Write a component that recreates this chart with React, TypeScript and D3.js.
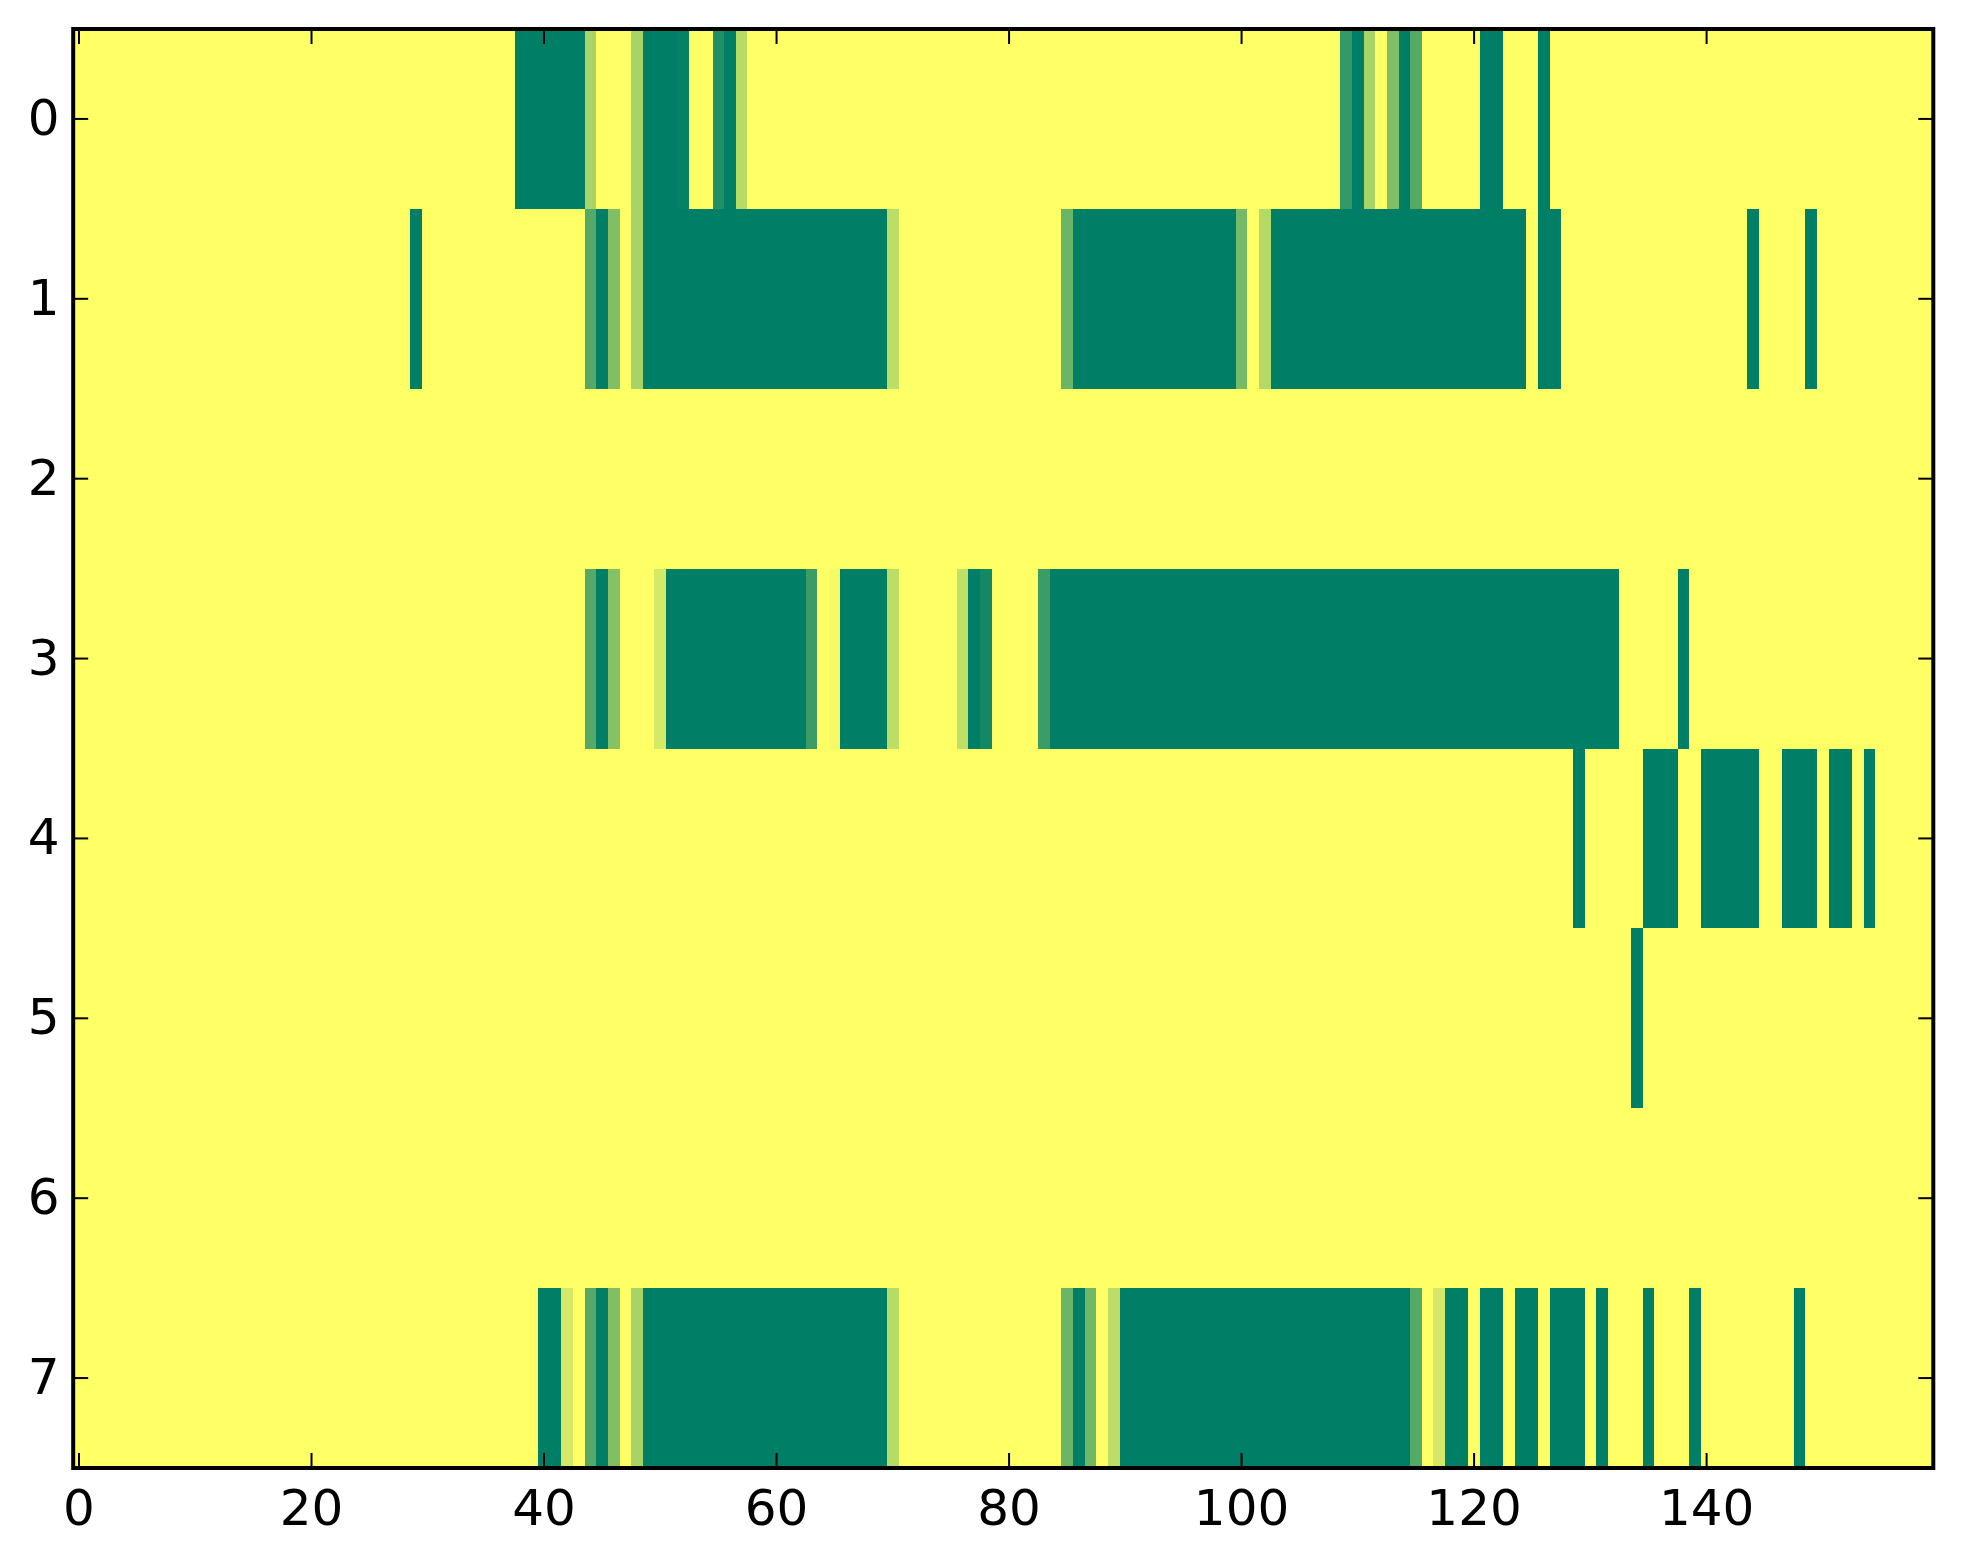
import React from 'react';
import * as d3 from 'd3';

const nCols = 160;
const rowTicks = [0, 1, 2, 3, 4, 5, 6, 7];
const colTicks = [0, 20, 40, 60, 80, 100, 120, 140];

// Sparse rows: [firstCol, lastCol, value]; every other cell is 1 (yellow)
const row0 = [
  [38, 43, 0], [44, 44, 0.66], [48, 48, 0.66], [49, 51, 0], [52, 52, 0.02],
  [55, 55, 0.13], [56, 56, 0], [57, 57, 0.72], [109, 109, 0.2], [110, 110, 0],
  [111, 111, 0.66], [113, 113, 0.5], [114, 114, 0], [115, 115, 0.33],
  [121, 122, 0], [126, 126, 0],
];
const row1 = [
  [29, 29, 0], [44, 44, 0.33], [45, 45, 0], [46, 46, 0.5], [48, 48, 0.66],
  [49, 69, 0], [70, 70, 0.74], [85, 85, 0.42], [86, 99, 0], [100, 100, 0.46],
  [102, 102, 0.7], [103, 124, 0], [126, 127, 0], [144, 144, 0], [149, 149, 0],
];
const row2: number[][] = [];
const row3 = [
  [44, 44, 0.33], [45, 45, 0], [46, 46, 0.52], [50, 50, 0.83], [51, 62, 0],
  [63, 63, 0.23], [65, 65, 0.96], [66, 69, 0], [70, 70, 0.74], [76, 76, 0.75],
  [77, 77, 0], [78, 78, 0.07], [83, 83, 0.23], [84, 132, 0], [138, 138, 0],
];
const row4 = [
  [129, 129, 0], [135, 137, 0], [140, 144, 0], [147, 149, 0], [151, 152, 0], [154, 154, 0],
];
const row5 = [[134, 134, 0]];
const row6: number[][] = [];
const row7 = [
  [40, 41, 0], [42, 42, 0.83], [44, 44, 0.33], [45, 45, 0], [46, 46, 0.5],
  [48, 48, 0.66], [49, 69, 0], [70, 70, 0.72], [85, 85, 0.42], [86, 86, 0],
  [87, 87, 0.44], [89, 89, 0.74], [90, 114, 0], [115, 115, 0.33], [117, 117, 0.83],
  [118, 119, 0], [121, 122, 0], [124, 125, 0], [127, 129, 0], [131, 131, 0],
  [135, 135, 0], [139, 139, 0], [148, 148, 0],
];
const rowsData = [row0, row1, row2, row3, row4, row5, row6, row7];

function expand(segs: number[][]): number[] {
  const arr = new Array(nCols).fill(1);
  for (const [a, b, v] of segs) for (let c = a; c <= b; c++) arr[c] = v;
  return arr;
}

export default function App() {
  const W = 1963, H = 1564;
  const left = 73.2, right = 1933.3, top = 29, bottom = 1468;
  const x = d3.scaleLinear().domain([-0.5, nCols - 0.5]).range([left, right]);
  const y = d3.scaleLinear().domain([-0.5, rowsData.length - 0.5]).range([top, bottom]);
  const color = d3.scaleLinear<string>().domain([0, 1]).range(['#007f66', '#ffff66']).interpolate(d3.interpolateRgb);
  const grid = rowsData.map(expand);
  const cw = x(1) - x(0);
  const ch = y(1) - y(0);
  const tickLen = 15;
  const font = 'DejaVu Sans, sans-serif';

  return (
    <svg width={W} height={H} style={{ position: 'absolute', left: 0, top: 0, background: '#fff' }}>
      <rect x={0} y={0} width={W} height={H} fill="#fff" />
      <g shapeRendering="crispEdges">
        {grid.map((row, r) =>
          row.map((v, c) => (
            <rect key={`${r}-${c}`} x={x(c - 0.5)} y={y(r - 0.5)} width={cw + 0.6} height={ch + 0.6} fill={color(v)} />
          ))
        )}
      </g>
      {colTicks.map((t) => (
        <g key={`xt${t}`}>
          <line x1={x(t)} x2={x(t)} y1={bottom} y2={bottom - tickLen} stroke="#000" strokeWidth={2} />
          <line x1={x(t)} x2={x(t)} y1={top} y2={top + tickLen} stroke="#000" strokeWidth={2} />
          <text x={x(t)} y={1525} textAnchor="middle" fontFamily={font} fontSize={50} fill="#000">{t}</text>
        </g>
      ))}
      {rowTicks.map((t) => (
        <g key={`yt${t}`}>
          <line x1={left} x2={left + tickLen} y1={y(t)} y2={y(t)} stroke="#000" strokeWidth={2} />
          <line x1={right} x2={right - tickLen} y1={y(t)} y2={y(t)} stroke="#000" strokeWidth={2} />
          <text x={59.5} y={y(t) + 16} textAnchor="end" fontFamily={font} fontSize={50} fill="#000">{t}</text>
        </g>
      ))}
      <rect x={left} y={top} width={right - left} height={bottom - top} fill="none" stroke="#000" strokeWidth={4} />
    </svg>
  );
}
